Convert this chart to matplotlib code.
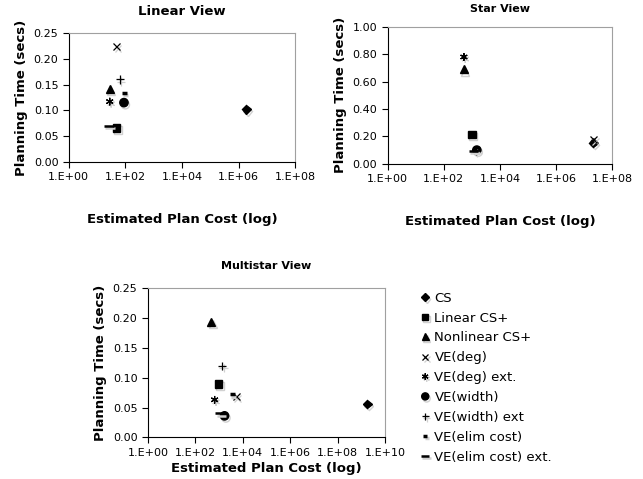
import math
import matplotlib
matplotlib.use("Agg")
import matplotlib.pyplot as plt
import matplotlib.patheffects as pe
from matplotlib.ticker import FixedLocator, FuncFormatter

series = ["CS", "Linear CS+", "Nonlinear CS+", "VE(deg)", "VE(deg) ext.",
          "VE(width)", "VE(width) ext", "VE(elim cost)", "VE(elim cost) ext."]

# estimated plan cost (x) and planning time (y) per view
linear_cost = [1.9e6, 49, 28, 49, 28, 89, 64, 90, 26]
linear_time = [0.102, 0.066, 0.142, 0.224, 0.117, 0.115, 0.160, 0.134, 0.069]

star_cost = [2.1e7, 1000, 520, 2.2e7, 520, 1500, 1400, 1350, 1150]
star_time = [0.155, 0.215, 0.69, 0.175, 0.78, 0.10, 0.095, 0.092, 0.095]

multi_cost = [1.8e9, 930, 470, 5300, 650, 1700, 1350, 3600, 1100]
multi_time = [0.056, 0.090, 0.194, 0.068, 0.063, 0.036, 0.120, 0.072, 0.040]

styles = [
    dict(marker="D", ms=4.5),
    dict(marker="s", ms=5.5),
    dict(marker="^", ms=6),
    dict(marker="x", ms=5, mew=0.9),
    dict(marker=(6, 2, 0), ms=5.5, mew=0.9),
    dict(marker="o", ms=6),
    dict(marker="+", ms=6, mew=0.9),
    dict(marker="_", ms=3.5, mew=2.5),
    dict(marker="_", ms=7, mew=1.8),
]

shadow = [pe.SimpleLineShadow(offset=(1, -1.5), shadow_color="0.82", alpha=1), pe.Normal()]


def fmt_exp(v, pos):
    e = int(round(math.log10(v)))
    return "1.E+%02d" % e


def draw(ax, cost, time, title, ymax, ystep, xmax_exp, title_size, pad):
    handles = []
    for c, t, st, name in zip(cost, time, styles, series):
        h, = ax.plot([c], [t], linestyle="none", color="black", label=name,
                     mfc="black", mec="black", path_effects=shadow, **st)
        handles.append(h)
    ax.set_xscale("log")
    ax.set_xlim(1, 10 ** xmax_exp)
    ax.xaxis.set_major_locator(FixedLocator([10 ** e for e in range(0, xmax_exp + 1, 2)]))
    ax.xaxis.set_minor_locator(FixedLocator([]))
    ax.xaxis.set_major_formatter(FuncFormatter(fmt_exp))
    ax.set_ylim(0, ymax)
    n = int(round(ymax / ystep))
    ax.set_yticks([i * ystep for i in range(n + 1)])
    ax.yaxis.set_major_formatter(FuncFormatter(lambda v, p: "%.2f" % v))
    ax.tick_params(direction="out", length=4, width=0.8, labelsize=8, colors="black")
    for s in ("top", "right"):
        ax.spines[s].set_color("#a0a0a0")
    for s in ("left", "bottom"):
        ax.spines[s].set_color("black")
    ax.set_title(title, fontsize=title_size, fontweight="bold", pad=pad)
    ax.set_ylabel("Planning Time (secs)", fontsize=9.5, fontweight="bold")
    return handles


fig = plt.figure(figsize=(6.43, 4.79), dpi=100)

ax1 = fig.add_axes([0.107, 0.662, 0.352, 0.269])
draw(ax1, linear_cost, linear_time, "Linear View", 0.25, 0.05, 8, 9.5, 13)
ax1.set_xlabel("Estimated Plan Cost (log)", fontsize=9.5, fontweight="bold", labelpad=22)

ax2 = fig.add_axes([0.603, 0.658, 0.349, 0.286])
draw(ax2, star_cost, star_time, "Star View", 1.0, 0.2, 8, 8, 11)
ax2.set_xlabel("Estimated Plan Cost (log)", fontsize=9.5, fontweight="bold", labelpad=22)

ax3 = fig.add_axes([0.230, 0.087, 0.369, 0.311])
handles = draw(ax3, multi_cost, multi_time, "Multistar View", 0.25, 0.05, 10, 8, 14)
ax3.set_xlabel("Estimated Plan Cost (log)", fontsize=9.5, fontweight="bold", labelpad=3)

fig.legend(handles=handles, loc="upper left", bbox_to_anchor=(0.648, 0.402),
           frameon=False, fontsize=9.5, handlelength=0.5, handletextpad=0.45,
           labelspacing=0.52, borderaxespad=0, markerscale=0.85)

fig.savefig("out.png", dpi=100)
